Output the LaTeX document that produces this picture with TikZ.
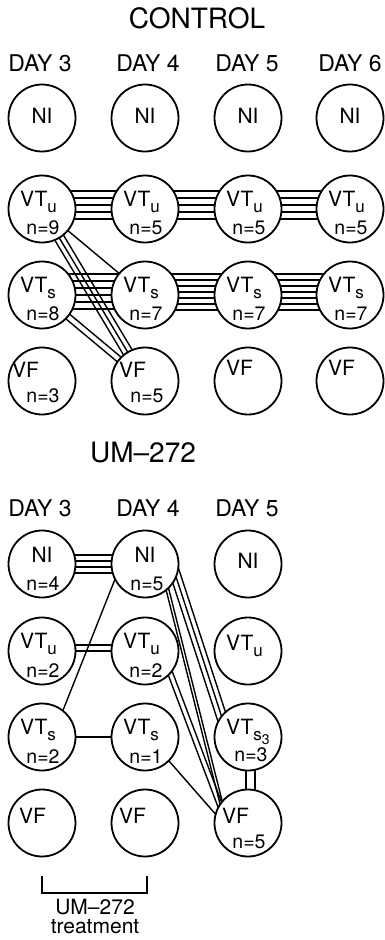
\documentclass[tikz,border=0pt]{standalone}
\usepackage{fontspec}
\setmainfont{TeX Gyre Heros}
\usetikzlibrary{calc,backgrounds}

\tikzset{
  st/.style={circle, draw, line width=1.8pt, fill=white, minimum size=67pt, inner sep=0pt},
  lbl/.style={inner sep=0pt, font=\fontsize{21}{23}\selectfont},
  lblw/.style={lbl, anchor=base west},
  cnt/.style={inner sep=0pt, anchor=base, font=\fontsize{19.5}{21}\selectfont},
  conn/.style={line width=1.4pt},
  title/.style={inner sep=0pt, font=\fontsize{28}{30}\selectfont},
  day/.style={inner sep=0pt, font=\fontsize{23}{25}\selectfont},
  foot/.style={inner sep=0pt, font=\fontsize{21}{23}\selectfont},
}

\newcommand\subx[1]{\raisebox{-6pt}{\fontsize{17}{17}\selectfont #1}}
\newcommand\subsub[1]{\raisebox{-4pt}{\fontsize{14}{14}\selectfont #1}}

% bundle of parallel connectors: #1 start, #2 end, #3 offsets (pt, positive = left of direction)
\newcommand\bundle[3]{%
  \path #1 coordinate (bA) #2 coordinate (bB);
  \path ($(bA)!-10pt!(bB)$) coordinate (bAx) ($(bB)!-10pt!(bA)$) coordinate (bBx);
  \foreach \k in {#3} \draw[conn] ($(bAx)!\k pt!90:(bBx)$) -- ($(bBx)!\k pt!-90:(bAx)$);
}

\begin{document}
\begin{tikzpicture}[x=1pt,y=-1pt]
\useasboundingbox (0,0) rectangle (384,940);

% ---------------- CONTROL ----------------
\node[title] (tc) at (197,18) {CONTROL};
\node[day] (dc3) at (40,63.5) {DAY 3};
\node[day] (dc4) at (148,63.5) {DAY 4};
\node[day] (dc5) at (247,63.5) {DAY 5};
\node[day] (dc6) at (350,63.5) {DAY 6};

\foreach \c/\x in {3/42,4/145,5/248,6/350}{
  \node[st] (c\c n) at (\x,118) {};
  \node[st] (c\c u) at (\x,209) {};
  \node[st] (c\c s) at (\x,295) {};
  \node[st] (c\c f) at (\x,381) {};
}

\begin{pgfonlayer}{background}
  \bundle{(c3u)}{(c4u)}{18,11,4,-3,-10}
  \bundle{(c4u)}{(c5u)}{18,11,4,-3,-10}
  \bundle{(c5u)}{(c6u)}{18,11,4,-3,-10}
  \bundle{(c3s)}{(c4s)}{21,14,7,0,-7,-14}
  \bundle{(c4s)}{(c5s)}{21,15,9,3,-3,-9,-15}
  \bundle{(c5s)}{(c6s)}{21,15,9,3,-3,-9,-15}
  \bundle{(c3u)}{(c4f)}{-5,0,5}
  \bundle{(c3u)}{(c4s)}{0}
  \bundle{(c3s)}{(c4f)}{-3,3}
\end{pgfonlayer}

\foreach \c in {3,4,5,6}{
  \node[lbl] at ($(c\c n)+(0,-2)$) {NI};
  \node[lblw] at ($(c\c u)+(-22,-3)$) {VT\subx{u}};
  \node[lblw] at ($(c\c s)+(-22,-3)$) {VT\subx{s}};
}
\node[cnt] at ($(c3u)+(1,25)$) {n=9};
\node[cnt] at ($(c4u)+(1,25)$) {n=5};
\node[cnt] at ($(c5u)+(1,25)$) {n=5};
\node[cnt] at ($(c6u)+(1,25)$) {n=5};
\node[cnt] at ($(c3s)+(1,25)$) {n=8};
\node[cnt] at ($(c4s)+(1,25)$) {n=7};
\node[cnt] at ($(c5s)+(1,25)$) {n=7};
\node[cnt] at ($(c6s)+(1,25)$) {n=7};
\node[lblw] at ($(c3f)+(-30,-4)$) {VF};
\node[lblw] at ($(c4f)+(-26,-4)$) {VF};
\node[lblw] at ($(c5f)+(-22,-6)$) {VF};
\node[lblw] at ($(c6f)+(-22,-6)$) {VF};
\node[cnt] at ($(c3f)+(1,21)$) {n=3};
\node[cnt] at ($(c4f)+(2,21)$) {n=5};

% ---------------- UM-272 ----------------
\node[title] (tu) at (143,453) {UM–272};
\node[day] (du3) at (40,508) {DAY 3};
\node[day] (du4) at (148,508) {DAY 4};
\node[day] (du5) at (247,508) {DAY 5};

\foreach \c/\x in {3/42,4/145,5/248}{
  \node[st] (u\c n) at (\x,564) {};
  \node[st] (u\c u) at (\x,651) {};
  \node[st] (u\c s) at (\x,737) {};
  \node[st] (u\c f) at (\x,823) {};
}

\begin{pgfonlayer}{background}
  \bundle{(u3n)}{(u4n)}{9,3,-3,-9}
  \bundle{(u3u)}{(u4u)}{6,0}
  \bundle{(u3s)}{(u4s)}{0}
  \bundle{(u3s.52)}{(u4n.208)}{0}
  \bundle{(u4n.336)}{(u5s.141)}{-5,0,5}
  \bundle{(u4n.311)}{(u5f.142)}{-1.4,1.4}
  \bundle{(u4u.318)}{(u5f.146)}{-2.5,2.5}
  \bundle{(u4s.315)}{(u5f.164)}{0}
  \bundle{(u5s)}{(u5f)}{-2,7}
\end{pgfonlayer}

\node[lbl] at ($(u3n)+(0,-9)$) {NI};
\node[lbl] at ($(u4n)+(0,-9)$) {NI};
\node[lbl] at ($(u5n)+(0,-3)$) {NI};
\node[cnt] at ($(u3n)+(1,26)$) {n=4};
\node[cnt] at ($(u4n)+(2,26)$) {n=5};
\node[lblw] at ($(u3u)+(-22,-3)$) {VT\subx{u}};
\node[lblw] at ($(u4u)+(-22,-3)$) {VT\subx{u}};
\node[lblw] at ($(u5u)+(-22,-1)$) {VT\subx{u}};
\node[cnt] at ($(u3u)+(1,26)$) {n=2};
\node[cnt] at ($(u4u)+(1,26)$) {n=2};
\node[lblw] at ($(u3s)+(-22,-3)$) {VT\subx{s}};
\node[lblw] at ($(u4s)+(-22,-3)$) {VT\subx{s}};
\node[lblw] at ($(u5s)+(-22,-3)$) {VT\subx{s\subsub{3}}};
\node[cnt] at ($(u3s)+(1,26)$) {n=2};
\node[cnt] at ($(u4s)+(1,26)$) {n=1};
\node[cnt] at ($(u5s)+(3,24)$) {n=3};
\node[lblw] at ($(u3f)+(-23,0)$) {VF};
\node[lblw] at ($(u4f)+(-26,0)$) {VF};
\node[lblw] at ($(u5f)+(-26,0)$) {VF};
\node[cnt] at ($(u5f)+(1,25)$) {n=5};

% bracket and caption
\coordinate (bl) at (42,876);
\coordinate (br) at (147,876);
\draw[conn] (bl) -- ++(0,17) -| (br);
\node[foot] (cap1) at (95,907) {UM–272};
\node[foot] (cap2) at (95,927) {treatment};
\end{tikzpicture}
\end{document}
